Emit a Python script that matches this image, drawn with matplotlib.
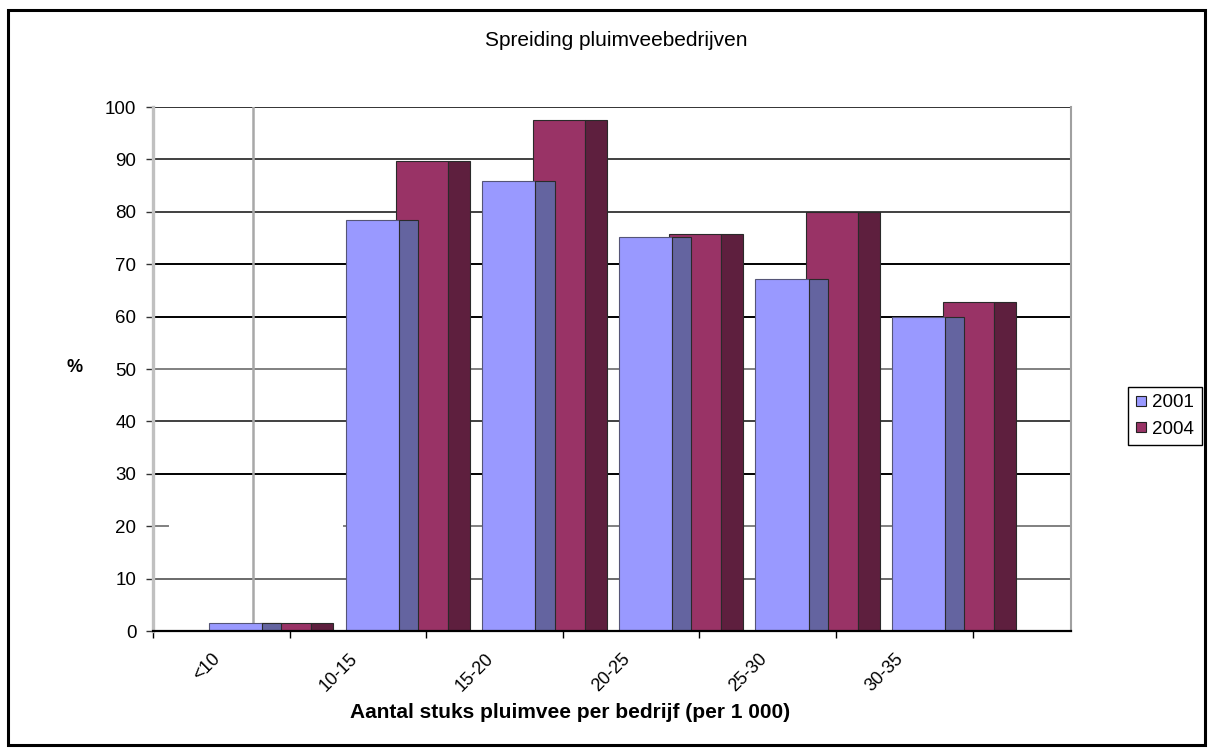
import matplotlib
matplotlib.use("Agg")
import matplotlib.pyplot as plt
from matplotlib.lines import Line2D
from matplotlib.patches import Rectangle
import numpy as np

plt.rcParams['font.family'] = ['Liberation Sans', 'DejaVu Sans']

# ---- data ----
categories = ['<10', '10-15', '15-20', '20-25', '25-30', '30-35']
series_names = ['2001', '2004']
values_2001 = [1.5, 78.4, 85.9, 75.1, 67.2, 60.0]
values_2004 = [1.5, 89.6, 97.5, 75.7, 80.0, 62.8]
y_ticks = list(range(0, 101, 10))

title = 'Spreiding pluimveebedrijven'
xlabel = 'Aantal stuks pluimvee per bedrijf (per 1 000)'
ylabel = '%'

# ---- style ----
front_2001, side_2001 = '#9999FF', '#6464A0'
front_2004, side_2004 = '#993366', '#5E1F3E'
edge = '#2a2a2a'

W, H = 1208, 749
fig = plt.figure(figsize=(W / 100, H / 100), dpi=100)
fig.patch.set_facecolor('white')

# outer frame
fig.patches.append(Rectangle((8 / W, 1 - 745 / H), (1205 - 8) / W, (745 - 10) / H,
                             transform=fig.transFigure, fill=False,
                             edgecolor='black', linewidth=2.2))

ax = fig.add_axes([153 / W, 1 - 631 / H, (1071 - 153) / W, (631 - 107) / H])
xmax = (1071 - 153) / 136.6
ax.set_xlim(0, xmax)
ax.set_ylim(0, 100)

# gridlines (horizontal)
grid_colors = {10: '#6a6a6a', 20: '#808080', 30: '#000000', 40: '#404040',
               50: '#808080', 60: '#000000', 70: '#000000', 80: '#404040',
               90: '#404040', 100: '#333333'}
for yv in y_ticks[1:]:
    if yv == 20:
        ax.axhline(yv, xmin=0, xmax=0.016, color=grid_colors[yv], lw=1.4, zorder=1)
        ax.axhline(yv, xmin=0.208, xmax=1, color=grid_colors[yv], lw=1.4, zorder=1)
    else:
        ax.axhline(yv, color=grid_colors[yv], lw=1.4, zorder=1)
ax.axvline((253 - 153) / 136.6, color='#a8a8a8', lw=1.8, zorder=1)

idx = np.arange(len(categories))
# 2004 bars (behind)
ax.bar(idx + 0.78, values_2004, width=0.38, align='edge', color=front_2004,
       edgecolor=edge, linewidth=0.8, zorder=2)
ax.bar(idx + 1.16, values_2004, width=0.16, align='edge', color=side_2004,
       edgecolor=edge, linewidth=0.8, zorder=2)
# 2001 bars (front)
ax.bar(idx + 0.41, values_2001, width=0.39, align='edge', color=front_2001,
       edgecolor='#555577', linewidth=0.8, zorder=3)
ax.bar(idx + 0.80, values_2001, width=0.14, align='edge', color=side_2001,
       edgecolor=edge, linewidth=0.8, zorder=3)

# spines
ax.spines['top'].set_visible(False)
ax.spines['left'].set_color('#c0c0c0')
ax.spines['left'].set_linewidth(2.4)
ax.spines['right'].set_color('#a0a0a0')
ax.spines['right'].set_linewidth(1.5)
ax.spines['bottom'].set_color('black')
ax.spines['bottom'].set_linewidth(1.6)
for s in ax.spines.values():
    s.set_zorder(4)

# y ticks
ax.set_yticks(y_ticks)
ax.set_yticklabels([str(v) for v in y_ticks])
ax.tick_params(axis='y', direction='out', length=5, width=1, color='#333333',
               pad=7, labelsize=13.5)

# x ticks: boundaries as major, labels at centers as minor
ax.set_xticks(np.arange(len(categories) + 1))
ax.set_xticklabels([''] * (len(categories) + 1))
ax.tick_params(axis='x', which='major', direction='out', length=5, width=1,
               color='black')
ax.set_xticks(idx + 0.52, minor=True)
ax.set_xticklabels(categories, minor=True, rotation=45, ha='right', va='top')
ax.tick_params(axis='x', which='minor', length=0, pad=14, labelsize=13)

# texts
fig.text(616 / W, 1 - 41 / H, title, ha='center', va='center', fontsize=15)
fig.text(570 / W, 1 - 713 / H, xlabel, ha='center', va='center', fontsize=15,
         fontweight='bold')
fig.text(75 / W, 1 - 368 / H, ylabel, ha='center', va='center', fontsize=13,
         fontweight='bold')

# legend
handles = [Line2D([0], [0], marker='s', linestyle='none', markersize=7,
                  markerfacecolor=front_2001, markeredgecolor='#222222', markeredgewidth=0.8),
           Line2D([0], [0], marker='s', linestyle='none', markersize=7,
                  markerfacecolor=front_2004, markeredgecolor='#222222', markeredgewidth=0.8)]
leg = fig.legend(handles, series_names, loc='center left',
                 bbox_to_anchor=(1128 / W, 1 - 416 / H), fontsize=13.5,
                 frameon=True, fancybox=False, framealpha=1, edgecolor='black',
                 handlelength=0.6, handletextpad=0.3, borderpad=0.4,
                 labelspacing=0.5, borderaxespad=0)
leg.get_frame().set_linewidth(1.0)

fig.savefig('out.png', dpi=100, facecolor='white')
